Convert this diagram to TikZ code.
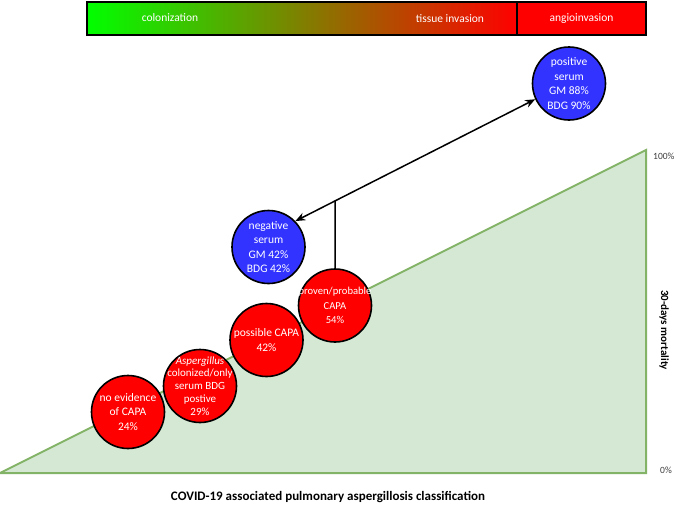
\documentclass[tikz,border=0pt]{standalone}
\usepackage{fontspec}
\setmainfont{Carlito}
\usetikzlibrary{arrows.meta,calc}
\definecolor{cred}{RGB}{255,0,0}
\definecolor{cblue}{RGB}{51,51,255}
\definecolor{cgreen}{RGB}{0,255,0}
\definecolor{trifill}{RGB}{213,232,212}
\definecolor{tridraw}{RGB}{130,179,102}
\definecolor{pctgray}{RGB}{60,60,60}
\begin{document}
\begin{tikzpicture}[x=1pt,y=-1pt,
  tri/.style={draw=tridraw,fill=trifill,line width=2pt,line join=miter},
  barbox/.style={draw=black,line width=1.5pt,minimum height=33pt,inner sep=0pt,outer sep=0pt},
  bartext/.style={text=white,font=\fontsize{11.5}{13}\selectfont,inner sep=0pt},
  circ/.style={circle,draw=black,line width=1.6pt,minimum size=73pt,inner sep=0pt},
  redc/.style={circ,fill=cred},
  bluec/.style={circ,fill=cblue},
  ctext/.style={text=white,align=center,inner sep=0pt,font=\fontsize{11.5}{14.6}\selectfont},
  arr/.style={line width=1.5pt,{Stealth[length=10pt,width=8pt]}-{Stealth[length=10pt,width=8pt]}},
  ln/.style={line width=1.5pt},
  pct/.style={text=pctgray,font=\fontsize{9.5}{11}\selectfont,inner sep=0pt},
  axlab/.style={font=\bfseries\fontsize{13}{15}\selectfont,inner sep=0pt}
]
\useasboundingbox (0,0) rectangle (680,514);
% mortality triangle
\coordinate (t1) at (0,473);
\coordinate (t2) at (646,473);
\coordinate (t3) at (646,150);
\draw[tri] (t1) -- (t2) -- (t3) -- cycle;
% top bar
\node[barbox,minimum width=430pt,left color=cgreen,right color=cred] (grad) at (302,18.5) {};
\node[barbox,minimum width=129pt,fill=cred] (angio) at (581.5,18.5) {};
\node[bartext] (colon) at (170,18) {colonization};
\node[bartext] (tissue) at (450,19) {tissue invasion};
\node[bartext] (angiot) at (581.5,19) {angioinvasion};
% circles
\node[redc] (noev) at (128,412) {};
\node[redc] (asp) at (200,386) {};
\node[redc] (poss) at (266.5,340) {};
\node[redc] (prov) at (335,305.5) {};
\node[bluec] (neg) at (268.5,247) {};
\node[bluec] (pos) at (569,83.5) {};
\node[ctext] (noevT) at (noev) {no evidence\\of CAPA\\24\%};
\node[ctext,font=\fontsize{11}{12.8}\selectfont] (aspT) at (asp) {\textit{Aspergillus}\\colonized/only\\serum BDG\\postive\\29\%};
\node[ctext] (possT) at (poss) {possible CAPA\\42\%};
\node[ctext,font=\fontsize{10.6}{14.6}\selectfont] (provT) at (prov) {proven/probable\\CAPA\\54\%};
\node[ctext] (negT) at (neg) {negative\\serum\\GM 42\%\\BDG 42\%};
\node[ctext] (posT) at (pos) {positive\\serum\\GM 88\%\\BDG 90\%};
% connectors
\coordinate (aneg) at (neg.44);
\coordinate (apos) at (pos.205);
\draw[arr] (aneg) -- (apos);
\coordinate (provup) at ($(prov.north)+(0,-120)$);
\draw[ln] (prov.north) -- (intersection of prov.north--provup and aneg--apos);
% labels
\node[pct,anchor=west] (p100) at (653,156) {100\%};
\node[pct,anchor=west] (p0) at (660,470) {0\%};
\node[axlab,font=\bfseries\fontsize{11}{13}\selectfont,rotate=-90] (mort) at (664,330) {30-days mortality};
\node[axlab] (xlab) at (328,497) {COVID-19 associated pulmonary aspergillosis classification};
\end{tikzpicture}
\end{document}
